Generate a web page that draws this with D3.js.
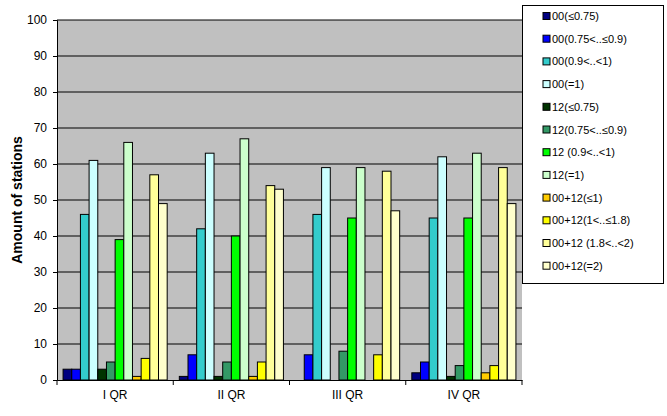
<!DOCTYPE html><html><head><script src="https://cdn.jsdelivr.net/npm/d3@7"></script>
<style>body{margin:0;background:#fff}text{font-family:Arial,"Liberation Sans",sans-serif}</style></head><body><svg width="667" height="416"></svg><script>
const categories=["I QR","II QR","III QR","IV QR"];
const seriesNames=["00(≤0.75)","00(0.75<..≤0.9)","00(0.9<..<1)","00(=1)","12(≤0.75)","12(0.75<..≤0.9)","12 (0.9<..<1)","12(=1)","00+12(≤1)","00+12(1<..≤1.8)","00+12 (1.8<..<2)","00+12(=2)"];
const colors=["#000080","#0000ff","#33cccc","#ccffff","#003300","#339966","#00ff00","#ccffcc","#ffcc00","#ffff00","#ffff99","#ffffcc"];
const values=[[3,1,0,2],[3,7,7,5],[46,42,46,45],[61,63,59,62],[3,1,0,1],[5,5,8,4],[39,40,45,45],[66,67,59,63],[1,1,0,2],[6,5,7,4],[57,54,58,59],[49,53,47,49]];
const yTicks=d3.range(0,101,10);
const svg=d3.select("svg");
const L=57,R=522,T=20,B=380;
const x=d3.scaleBand().domain(categories).range([L,R]);
const xi=d3.scaleBand().domain(d3.range(12)).range([0,x.bandwidth()]).paddingOuter(0.7);
const y=d3.scaleLinear().domain([0,100]).range([B,T]);
svg.append("rect").attr("x",L).attr("y",T).attr("width",R-L).attr("height",B-T).attr("fill","#c0c0c0");
svg.append("g").selectAll("line").data(yTicks.slice(1)).join("line").attr("x1",L).attr("x2",R).attr("y1",d=>y(d)).attr("y2",d=>y(d)).attr("stroke","#000");
const ya=svg.append("g").attr("transform",`translate(${L},0)`).call(d3.axisLeft(y).tickValues(yTicks).tickSize(4).tickPadding(6));
ya.selectAll("text").attr("font-size",12);
categories.forEach((c,ci)=>{
 svg.append("g").selectAll("rect").data(values.map((v,si)=>({v:v[ci],si}))).join("rect")
 .attr("x",d=>x(c)+xi(d.si)).attr("width",xi.bandwidth()).attr("y",d=>y(d.v)).attr("height",d=>B-y(d.v))
 .attr("fill",d=>colors[d.si]).attr("stroke","#000").attr("stroke-width",1);
});
const xa=svg.append("g").attr("transform",`translate(0,${B})`).call(d3.axisBottom(x).tickSize(0).tickPadding(10));
xa.selectAll("text").attr("font-size",12);
xa.selectAll(".tick").each(function(){});
svg.append("g").selectAll("line").data(d3.range(5)).join("line").attr("x1",i=>L+i*x.step()).attr("x2",i=>L+i*x.step()).attr("y1",B).attr("y2",B+5).attr("stroke","#000");
svg.append("text").attr("transform","translate(22,200) rotate(-90)").attr("text-anchor","middle").attr("font-size",14).attr("font-weight","bold").text("Amount of stations");
const lg=svg.append("g");
lg.append("rect").attr("x",522.5).attr("y",5.5).attr("width",141).attr("height",278).attr("fill","#fff").attr("stroke","#000");
seriesNames.forEach((n,i)=>{
 const yy=16+i*22.7;
 lg.append("rect").attr("x",543).attr("y",yy-3.5).attr("width",7).attr("height",7).attr("fill",colors[i]).attr("stroke","#000");
 lg.append("text").attr("x",552).attr("y",yy+4).attr("font-size",11).text(n);
});
</script></body></html>
